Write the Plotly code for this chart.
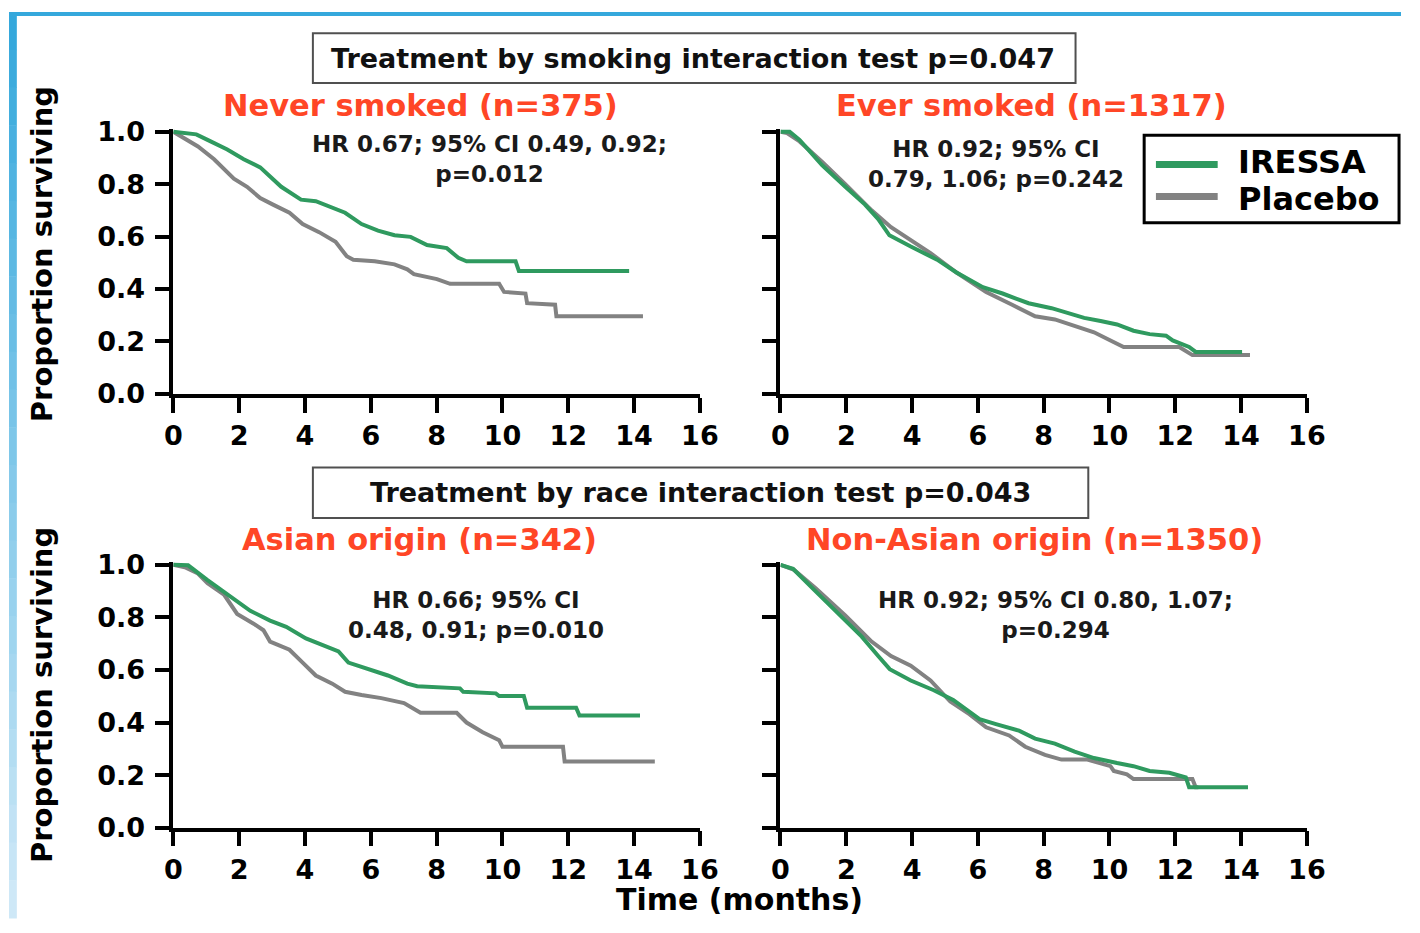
import plotly.graph_objects as go

W, H = 1420, 933

# ---------------- data ----------------
never_iressa_t = [0, 0.7, 1.04, 1.64, 2.14, 2.64, 3.28, 3.88, 4.33, 5.22, 5.72, 6.22, 6.72, 7.21, 7.71, 8.31, 8.66, 8.91, 10.4, 10.5, 13.85]
never_iressa_s = [1.0, 0.99, 0.969, 0.932, 0.895, 0.864, 0.79, 0.741, 0.735, 0.691, 0.648, 0.623, 0.605, 0.599, 0.568, 0.556, 0.519, 0.506, 0.506, 0.469, 0.469]
never_placebo_t = [0, 0.35, 0.75, 1.24, 1.84, 2.24, 2.64, 3.03, 3.53, 3.93, 4.43, 4.93, 5.27, 5.47, 6.12, 6.72, 7.11, 7.31, 8.01, 8.41, 9.9, 10.05, 10.7, 10.75, 11.6, 11.64, 14.27]
never_placebo_s = [1.0, 0.975, 0.944, 0.895, 0.821, 0.79, 0.747, 0.722, 0.691, 0.648, 0.617, 0.58, 0.525, 0.512, 0.506, 0.494, 0.475, 0.457, 0.438, 0.42, 0.42, 0.389, 0.383, 0.346, 0.34, 0.296, 0.296]

ever_iressa_t = [0, 0.28, 0.58, 1.27, 1.97, 2.57, 2.97, 3.31, 3.96, 4.76, 5.35, 6.15, 6.75, 7.54, 8.24, 8.74, 9.23, 9.73, 10.23, 10.73, 11.22, 11.72, 11.92, 12.42, 12.62, 14.03]
ever_iressa_s = [1.0, 1.0, 0.969, 0.872, 0.79, 0.722, 0.667, 0.605, 0.562, 0.512, 0.463, 0.407, 0.383, 0.346, 0.327, 0.309, 0.29, 0.278, 0.265, 0.241, 0.228, 0.222, 0.204, 0.179, 0.16, 0.16]
ever_placebo_t = [0, 0.2, 0.58, 1.27, 1.97, 2.77, 3.36, 3.96, 4.56, 5.35, 6.25, 7.04, 7.74, 8.34, 8.94, 9.53, 10.03, 10.43, 12.12, 12.52, 14.27]
ever_placebo_s = [1.0, 0.995, 0.963, 0.885, 0.8, 0.7, 0.636, 0.586, 0.537, 0.463, 0.389, 0.34, 0.296, 0.284, 0.259, 0.235, 0.204, 0.179, 0.179, 0.148, 0.148]

asian_iressa_t = [0, 0.45, 1.04, 1.74, 2.34, 2.94, 3.43, 4.03, 4.53, 5.02, 5.32, 5.92, 6.52, 7.11, 7.41, 8.71, 8.81, 9.8, 9.9, 10.65, 10.75, 12.24, 12.34, 14.18]
asian_iressa_s = [1.0, 0.998, 0.942, 0.88, 0.825, 0.788, 0.764, 0.72, 0.696, 0.671, 0.628, 0.603, 0.579, 0.548, 0.538, 0.53, 0.517, 0.511, 0.501, 0.501, 0.456, 0.456, 0.427, 0.427]
asian_placebo_t = [0, 0.35, 0.75, 1.04, 1.54, 1.94, 2.44, 2.74, 2.94, 3.53, 3.93, 4.33, 4.83, 5.22, 5.72, 6.32, 7.01, 7.51, 8.61, 8.91, 9.4, 9.9, 10.0, 11.84, 11.89, 14.63]
asian_placebo_s = [1.0, 0.991, 0.967, 0.93, 0.887, 0.813, 0.776, 0.751, 0.708, 0.677, 0.628, 0.579, 0.548, 0.517, 0.505, 0.493, 0.474, 0.437, 0.437, 0.4, 0.363, 0.333, 0.308, 0.308, 0.252, 0.252]

nonasian_iressa_t = [0, 0.38, 1.07, 1.87, 2.47, 2.97, 3.32, 3.96, 4.66, 5.25, 6.05, 6.55, 7.25, 7.74, 8.34, 8.94, 9.53, 10.23, 10.73, 11.22, 11.82, 12.32, 12.42, 14.21]
nonasian_iressa_s = [1.0, 0.985, 0.899, 0.8, 0.727, 0.653, 0.603, 0.56, 0.523, 0.486, 0.413, 0.394, 0.369, 0.339, 0.32, 0.289, 0.265, 0.246, 0.234, 0.216, 0.209, 0.191, 0.154, 0.154]
nonasian_placebo_t = [0, 0.4, 1.07, 1.97, 2.77, 3.36, 3.96, 4.56, 5.16, 5.75, 6.25, 6.95, 7.44, 8.04, 8.54, 9.33, 10.03, 10.13, 10.53, 10.73, 12.52, 12.62, 12.7]
nonasian_placebo_s = [1.0, 0.982, 0.911, 0.807, 0.708, 0.653, 0.616, 0.56, 0.48, 0.431, 0.382, 0.351, 0.308, 0.277, 0.259, 0.259, 0.234, 0.216, 0.203, 0.185, 0.185, 0.154, 0.154]

x_ticks = [0, 2, 4, 6, 8, 10, 12, 14, 16]
y_ticks = [0.0, 0.2, 0.4, 0.6, 0.8, 1.0]

panel_titles = ["Never smoked (n=375)", "Ever smoked (n=1317)",
                "Asian origin (n=342)", "Non-Asian origin (n=1350)"]
hr_texts = ["HR 0.67; 95% CI 0.49, 0.92;<br>p=0.012",
            "HR 0.92; 95% CI<br>0.79, 1.06; p=0.242",
            "HR 0.66; 95% CI<br>0.48, 0.91; p=0.010",
            "HR 0.92; 95% CI 0.80, 1.07;<br>p=0.294"]
headers = ["Treatment by smoking interaction test p=0.047",
           "Treatment by race interaction test p=0.043"]
series_names = ["IRESSA", "Placebo"]

GREEN = "#2f9a5f"
GRAY = "#828282"
RED = "#ff4626"
FONT = "DejaVu Sans"

def px(x):
    return x / W

def py(y):
    return 1 - y / H

fig = go.Figure()

panels = [
    (never_placebo_t, never_placebo_s, never_iressa_t, never_iressa_s),
    (ever_placebo_t, ever_placebo_s, ever_iressa_t, ever_iressa_s),
    (asian_placebo_t, asian_placebo_s, asian_iressa_t, asian_iressa_s),
    (nonasian_placebo_t, nonasian_placebo_s, nonasian_iressa_t, nonasian_iressa_s),
]

for i, (pt, ps, it, is_) in enumerate(panels):
    ax = "" if i == 0 else str(i + 1)
    fig.add_trace(go.Scatter(x=pt, y=ps, mode="lines", name=series_names[1],
                             line=dict(color=GRAY, width=4), xaxis="x" + ax, yaxis="y" + ax,
                             showlegend=False))
    fig.add_trace(go.Scatter(x=it, y=is_, mode="lines", name=series_names[0],
                             line=dict(color=GREEN, width=4), xaxis="x" + ax, yaxis="y" + ax,
                             showlegend=False))

x_dom_left = [px(167.6), px(704.8)]
x_dom_right = [px(787), px(1324)]
y_dom_top = [py(393.3), py(120.06)]
y_dom_bot = [py(840), py(566.05)]

doms = [(x_dom_left, y_dom_top), (x_dom_right, y_dom_top),
        (x_dom_left, y_dom_bot), (x_dom_right, y_dom_bot)]

tickfont = dict(family=FONT, size=27, color="black", weight="bold")
layout_axes = {}
for i, (xd, yd) in enumerate(doms):
    k = "" if i == 0 else str(i + 1)
    layout_axes["xaxis" + k] = dict(
        domain=xd, range=[0, 16], anchor="y" + k, tickvals=x_ticks,
        ticktext=[str(v) for v in x_ticks],
        showline=True, linecolor="black", linewidth=3.5, ticks="outside",
        ticklen=15, tickwidth=4, tickcolor="black", showgrid=False, zeroline=False,
        tickfont=tickfont, ticklabelstandoff=0)
    layout_axes["yaxis" + k] = dict(
        domain=yd, range=[0, 1.012], anchor="x" + k, tickvals=y_ticks,
        ticktext=["%.1f" % v for v in y_ticks],
        showticklabels=(i % 2 == 0),
        showline=True, linecolor="black", linewidth=3.5, ticks="outside",
        ticklen=15, tickwidth=4, tickcolor="black", showgrid=False, zeroline=False,
        tickfont=tickfont, ticklabelstandoff=4)

annotations = []
# headers
header_pos = [(698, 48), (705, 495)]
for txt, (x, y) in zip(headers, header_pos):
    annotations.append(dict(text=txt, x=px(x), y=py(y), xref="paper", yref="paper",
                            showarrow=False, xanchor="center", yanchor="middle",
                            font=dict(family=FONT, size=27, color="#111", weight="bold")))
# panel titles
title_pos = [(420, 96), (1043, 96), (419, 543), (1046, 543)]
for txt, (x, y) in zip(panel_titles, title_pos):
    annotations.append(dict(text=txt, x=px(x), y=py(y), xref="paper", yref="paper",
                            showarrow=False, xanchor="center", yanchor="middle",
                            font=dict(family=FONT, size=30.5, color=RED, weight="bold")))
# HR texts
hr_pos = [(490, 151.5), (1007, 157), (476, 621), (1068, 621)]
for txt, (x, y) in zip(hr_texts, hr_pos):
    annotations.append(dict(text=txt, x=px(x), y=py(y), xref="paper", yref="paper",
                            showarrow=False, xanchor="center", yanchor="middle", align="center",
                            font=dict(family=FONT, size=23, color="#1a1a1a", weight="bold")))
# axis titles
for y in (249, 703):
    annotations.append(dict(text="Proportion surviving", x=px(33), y=py(y), xref="paper", yref="paper",
                            showarrow=False, xanchor="center", yanchor="middle", textangle=-90,
                            font=dict(family=FONT, size=29, color="black", weight="bold")))
annotations.append(dict(text="Time (months)", x=px(745), y=py(914), xref="paper", yref="paper",
                        showarrow=False, xanchor="center", yanchor="middle",
                        font=dict(family=FONT, size=30, color="black", weight="bold")))
# legend labels
for txt, y in zip(series_names, (154, 193)):
    annotations.append(dict(text=txt, x=px(1253), y=py(y), xref="paper", yref="paper",
                            showarrow=False, xanchor="left", yanchor="middle",
                            borderpad=0,
                            font=dict(family=FONT, size=32, color="black", weight="bold")))

shapes = []
# header boxes
for (x0, y0, x1, y1) in [(310, 22, 1088, 73), (310, 469, 1101, 521)]:
    shapes.append(dict(type="rect", xref="paper", yref="paper", x0=px(x0), x1=px(x1),
                       y0=py(y1), y1=py(y0), line=dict(color="#505050", width=2)))
# legend box
shapes.append(dict(type="rect", xref="paper", yref="paper", x0=px(1158), x1=px(1418),
                   y0=py(217), y1=py(127), line=dict(color="black", width=3)))
for col, y in zip((GREEN, GRAY), (157, 190)):
    shapes.append(dict(type="line", xref="paper", yref="paper", x0=px(1170), x1=px(1233),
                       y0=py(y), y1=py(y), line=dict(color=col, width=7)))
# blue frame (top band + left band with gradient)
shapes.append(dict(type="rect", xref="paper", yref="paper", x0=0, x1=1, y0=py(4), y1=1,
                   line=dict(width=0), fillcolor="#35a8dc", layer="above"))
n = 24
c0 = (53, 168, 220)
c1 = (206, 232, 247)
for j in range(n):
    f = j / (n - 1)
    c = tuple(int(round(c0[k] + (c1[k] - c0[k]) * f)) for k in range(3))
    y0 = H * j / n
    y1 = H * (j + 1) / n
    shapes.append(dict(type="rect", xref="paper", yref="paper", x0=0, x1=px(8),
                       y0=py(y1 + 0.5), y1=py(y0), line=dict(width=0),
                       fillcolor="rgb(%d,%d,%d)" % c, layer="above"))

fig.update_layout(
    width=W, height=H, margin=dict(l=0, r=0, t=0, b=0),
    paper_bgcolor="white", plot_bgcolor="white",
    showlegend=False, annotations=annotations, shapes=shapes,
    **layout_axes,
)

fig.write_html("out.html", config={"displayModeBar": False},
               post_script="document.body.style.margin='0';document.body.style.overflow='hidden';")
